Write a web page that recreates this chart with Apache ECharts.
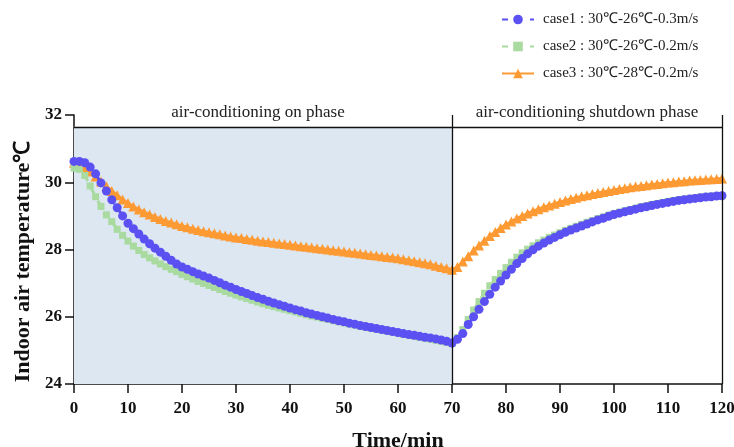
<!DOCTYPE html>
<html>
<head>
<meta charset="utf-8">
<script src="https://cdn.jsdelivr.net/npm/echarts@6/dist/echarts.min.js"></script>
<style>html,body{margin:0;padding:0;background:#fff}#c{width:734px;height:447px}</style>
</head>
<body>
<div id="c"></div>
<script>
const seriesNames = ['case1 : 30℃-26℃-0.3m/s', 'case2 : 30℃-26℃-0.2m/s', 'case3 : 30℃-28℃-0.2m/s'];
const phaseLabels = ['air-conditioning on phase', 'air-conditioning shutdown phase'];
const xTicks = [0, 10, 20, 30, 40, 50, 60, 70, 80, 90, 100, 110, 120];
const yTicks = [24, 26, 28, 30, 32];

const case1 = [
30.62,30.62,30.58,30.45,30.25,29.98,29.74,29.48,29.24,29.00,
28.78,28.62,28.46,28.31,28.17,28.04,27.92,27.80,27.68,27.57,
27.48,27.41,27.34,27.27,27.21,27.15,27.08,27.01,26.94,26.88,
26.81,26.75,26.69,26.63,26.57,26.52,26.46,26.41,26.36,26.31,
26.26,26.21,26.17,26.12,26.08,26.04,26.00,25.96,25.92,25.88,
25.85,25.81,25.78,25.74,25.71,25.68,25.65,25.62,25.59,25.56,
25.53,25.50,25.47,25.45,25.42,25.39,25.37,25.34,25.31,25.27,
25.22,
25.33,25.50,25.77,26.00,26.22,26.45,26.67,26.88,27.06,27.24,
27.41,27.58,27.73,27.87,27.99,28.10,28.19,28.28,28.36,28.44,
28.51,28.58,28.64,28.70,28.76,28.82,28.88,28.93,28.99,29.04,
29.08,29.12,29.16,29.20,29.24,29.27,29.31,29.34,29.37,29.40,
29.43,29.46,29.48,29.50,29.52,29.54,29.56,29.57,29.59,29.60
];
const case2 = [
30.42,30.38,30.20,29.89,29.57,29.28,29.03,28.83,28.60,28.42,
28.25,28.10,27.97,27.85,27.75,27.66,27.57,27.49,27.41,27.34,
27.26,27.19,27.12,27.05,26.99,26.93,26.87,26.81,26.75,26.70,
26.64,26.59,26.54,26.49,26.44,26.39,26.34,26.30,26.26,26.22,
26.18,26.14,26.10,26.06,26.02,25.99,25.95,25.92,25.88,25.85,
25.82,25.78,25.75,25.72,25.69,25.66,25.63,25.60,25.57,25.54,
25.51,25.48,25.45,25.42,25.39,25.36,25.33,25.30,25.27,25.24,
25.20,
25.38,25.62,25.92,26.20,26.45,26.70,26.92,27.11,27.29,27.46,
27.62,27.77,27.90,28.01,28.11,28.20,28.28,28.36,28.43,28.50,
28.57,28.63,28.69,28.75,28.81,28.86,28.92,28.97,29.02,29.07,
29.11,29.15,29.19,29.23,29.27,29.30,29.34,29.37,29.40,29.43,
29.46,29.48,29.50,29.52,29.54,29.56,29.58,29.59,29.60,29.61
];
const case3 = [
30.58,30.55,30.45,30.32,30.17,30.02,29.88,29.74,29.61,29.49,
29.38,29.28,29.19,29.11,29.04,28.97,28.91,28.85,28.80,28.75,
28.70,28.66,28.62,28.58,28.54,28.51,28.48,28.45,28.42,28.39,
28.36,28.34,28.31,28.29,28.26,28.24,28.22,28.20,28.18,28.16,
28.14,28.12,28.10,28.08,28.06,28.04,28.02,28.00,27.98,27.96,
27.94,27.92,27.90,27.88,27.86,27.84,27.82,27.80,27.78,27.76,
27.74,27.71,27.68,27.65,27.62,27.59,27.56,27.52,27.48,27.44,
27.40,
27.48,27.64,27.80,27.97,28.12,28.26,28.40,28.52,28.64,28.74,
28.83,28.92,29.00,29.07,29.14,29.20,29.26,29.31,29.36,29.41,
29.46,29.50,29.54,29.58,29.61,29.65,29.68,29.71,29.74,29.77,
29.80,29.82,29.85,29.87,29.89,29.91,29.93,29.95,29.97,29.99,
30.00,30.02,30.03,30.05,30.06,30.07,30.08,30.09,30.10,30.11
];
const phaseBounds = [0, 70, 120];
const boxTop = 31.65;

const pairs = arr => arr.map((v, i) => [i, v]);
const serif = 'Liberation Serif';

const chart = echarts.init(document.getElementById('c'), null, {renderer: 'canvas'});
chart.setOption({
  animation: false,
  backgroundColor: '#fff',
  grid: {left: 74, right: 12, top: 115, bottom: 63, containLabel: false, outerBoundsMode: 'none'},
  legend: {
    data: seriesNames,
    orient: 'vertical',
    left: 496, top: 7,
    itemWidth: 32, itemHeight: 12, itemGap: 12,
    textStyle: {fontFamily: serif, fontSize: 15, color: '#222', padding: [0, 0, 0, 4]}
  },
  xAxis: {
    type: 'value', min: 0, max: 120, interval: 10,
    name: 'Time/min', nameLocation: 'middle', nameGap: 46,
    nameTextStyle: {fontFamily: serif, fontWeight: 'bold', fontSize: 22, color: '#111'},
    axisLine: {lineStyle: {color: '#111', width: 1.5}},
    axisTick: {length: 9, lineStyle: {color: '#111', width: 1.5}},
    axisLabel: {fontFamily: serif, fontWeight: 'bold', fontSize: 17, color: '#111', margin: 16},
    splitLine: {show: false}
  },
  yAxis: {
    type: 'value', min: 24, max: 32, interval: 2,
    name: 'Indoor air temperature℃', nameLocation: 'middle', nameGap: 40,
    nameTextStyle: {fontFamily: serif, fontWeight: 'bold', fontSize: 22, color: '#111', padding: [0, 24, 0, 0]},
    axisLine: {show: true, lineStyle: {color: '#111', width: 1.5}},
    axisTick: {show: true, length: 9, lineStyle: {color: '#111', width: 1.5}},
    axisLabel: {fontFamily: serif, fontWeight: 'bold', fontSize: 17, color: '#111', margin: 12},
    splitLine: {show: false}
  },
  series: [
    {
      name: seriesNames[0], type: 'line', z: 4,
      data: pairs(case1),
      symbol: 'circle', symbolSize: 9,
      itemStyle: {color: '#5b50f2'},
      lineStyle: {color: '#5b50f2', width: 3, type: [6, 8]}
    },
    {
      name: seriesNames[1], type: 'line', z: 3,
      data: pairs(case2),
      symbol: 'rect', symbolSize: 7,
      itemStyle: {color: '#a9dba0'},
      lineStyle: {color: '#a9dba0', width: 3, type: [6, 8]}
    },
    {
      name: seriesNames[2], type: 'line', z: 2,
      data: pairs(case3),
      symbol: 'triangle', symbolSize: 10,
      itemStyle: {color: '#fe9a33'},
      lineStyle: {color: '#fe9a33', width: 3},
      markArea: {
        silent: true,
        data: [
          [{xAxis: phaseBounds[0], yAxis: 24, itemStyle: {color: '#dce7f2'},
            label: {show: true, position: 'top', distance: 6, formatter: phaseLabels[0],
                    fontFamily: serif, fontSize: 17, color: '#222', padding: [0, 10, 0, 0]}},
           {xAxis: phaseBounds[1], yAxis: boxTop}],
          [{xAxis: phaseBounds[1], yAxis: 24, itemStyle: {color: 'rgba(0,0,0,0)'},
            label: {show: true, position: 'top', distance: 6, formatter: phaseLabels[1],
                    fontFamily: serif, fontSize: 17, color: '#222'}},
           {xAxis: phaseBounds[2], yAxis: boxTop}]
        ]
      },
      markLine: {
        silent: true, symbol: 'none', label: {show: false},
        lineStyle: {color: '#111', width: 1.3, type: 'solid'},
        data: [
          [{coord: [phaseBounds[0], boxTop]}, {coord: [phaseBounds[2], boxTop]}],
          {xAxis: phaseBounds[1]},
          {xAxis: phaseBounds[2]}
        ]
      }
    }
  ]
});
</script>
</body>
</html>
